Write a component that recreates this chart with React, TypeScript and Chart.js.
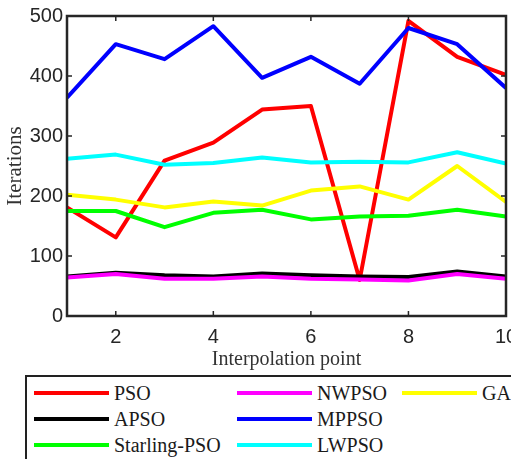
import React, { useEffect, useRef } from "react";
import { Chart, registerables } from "chart.js";

Chart.register(...registerables);

const interpolationPoints = [1, 2, 3, 4, 5, 6, 7, 8, 9, 10];
const xTickValues = [2, 4, 6, 8, 10];
const yTickValues = [0, 100, 200, 300, 400, 500];

const seriesNames = ["PSO", "APSO", "Starling-PSO", "NWPSO", "MPPSO", "LWPSO", "GA"];
const seriesColors = ["#ff0000", "#000000", "#00ff00", "#ff00ff", "#0000ff", "#00ffff", "#ffff00"];

const psoValues = [181, 131, 259, 289, 344, 350, 60, 492, 432, 402];
const apsoValues = [66, 72, 68, 66, 71, 68, 66, 65, 74, 66];
const starlingValues = [175, 175, 148, 172, 177, 161, 166, 167, 177, 166];
const nwpsoValues = [64, 70, 62, 62, 66, 62, 61, 59, 70, 62];
const mppsoValues = [364, 453, 428, 483, 397, 432, 387, 480, 453, 380];
const lwpsoValues = [262, 269, 252, 255, 264, 256, 257, 256, 273, 254];
const gaValues = [202, 194, 181, 191, 184, 209, 216, 194, 250, 190];

const seriesValues = [psoValues, apsoValues, starlingValues, nwpsoValues, mppsoValues, lwpsoValues, gaValues];

// legend layout: column-major like the reference
const legendColumns = [
  [0, 1, 2],
  [3, 4, 5],
  [6],
];

const AXIS_COLOR = "#262626";

const framePlugin = {
  id: "matlabFrame",
  afterDatasetsDraw(chart: any) {
    const { ctx, chartArea, scales } = chart;
    const { left, right, top, bottom } = chartArea;
    ctx.save();
    ctx.strokeStyle = AXIS_COLOR;
    ctx.lineWidth = 1.5;
    const tl = 5;
    ctx.beginPath();
    for (const v of xTickValues) {
      const px = scales.x.getPixelForValue(v);
      if (px <= left + 1 || px >= right - 1) continue;
      ctx.moveTo(px, bottom);
      ctx.lineTo(px, bottom - tl);
      ctx.moveTo(px, top);
      ctx.lineTo(px, top + tl);
    }
    for (const v of yTickValues) {
      const py = scales.y.getPixelForValue(v);
      if (py <= top + 1 || py >= bottom - 1) continue;
      ctx.moveTo(left, py);
      ctx.lineTo(left + tl, py);
      ctx.moveTo(right, py);
      ctx.lineTo(right - tl, py);
    }
    ctx.stroke();
    ctx.lineWidth = 2.5;
    ctx.strokeRect(left, top, right - left, bottom - top);
    ctx.restore();
  },
};

function LegendBox() {
  const colX = [34, 237, 402];
  const rowY = [393, 419, 445];
  const items: React.ReactNode[] = [];
  legendColumns.forEach((col, ci) => {
    col.forEach((si, ri) => {
      items.push(
        <div key={`l${si}`} style={{ position: "absolute", left: colX[ci], top: rowY[ri] - 2, width: 75, height: 4, background: seriesColors[si] }} />
      );
      items.push(
        <div
          key={`t${si}`}
          style={{
            position: "absolute",
            left: colX[ci] + 80,
            top: rowY[ri] - 13,
            height: 26,
            lineHeight: "26px",
            fontFamily: '"Liberation Serif", "Times New Roman", serif',
            fontSize: 20,
            color: "#1a1a1a",
            whiteSpace: "nowrap",
          }}
        >
          {seriesNames[si]}
        </div>
      );
    });
  });
  return (
    <>
      <div style={{ position: "absolute", left: 25, top: 375, width: 600, height: 200, border: "2px solid #222", boxSizing: "border-box", background: "#fff" }} />
      {items}
    </>
  );
}

export default function App() {
  const canvasRef = useRef<HTMLCanvasElement | null>(null);

  useEffect(() => {
    const canvas = canvasRef.current;
    if (!canvas) return;
    const datasets = seriesNames.map((name, i) => ({
      label: name,
      data: interpolationPoints.map((x, k) => ({ x, y: seriesValues[i][k] })),
      borderColor: seriesColors[i],
      backgroundColor: seriesColors[i],
      borderWidth: 4,
      borderJoinStyle: "round",
      borderCapStyle: "butt",
      pointRadius: 0,
      tension: 0,
      fill: false,
      order: seriesNames.length - i,
    }));
    const chart = new Chart(canvas, {
      type: "line",
      data: { datasets },
      plugins: [framePlugin],
      options: {
        animation: false,
        responsive: false,
        devicePixelRatio: 1,
        layout: { padding: { left: 0, top: 15, right: 34, bottom: 83 } },
        plugins: { legend: { display: false }, tooltip: { enabled: false } },
        scales: {
          x: {
            type: "linear",
            min: 1,
            max: 10,
            grid: { display: false, drawTicks: false },
            border: { display: false },
            afterBuildTicks: (scale: any) => {
              scale.ticks = xTickValues.map((v) => ({ value: v }));
            },
            afterFit: (scale: any) => {
              scale.height = 60;
            },
            ticks: {
              padding: 9,
              color: AXIS_COLOR,
              maxRotation: 0,
              autoSkip: false,
              font: { family: '"Liberation Sans", Arial, sans-serif', size: 20 },
            },
            title: {
              display: true,
              text: "Interpolation point",
              color: "#333",
              padding: { top: 0, bottom: 4 },
              font: { family: '"Liberation Serif", "Times New Roman", serif', size: 20 },
            },
          },
          y: {
            type: "linear",
            min: 0,
            max: 500,
            grid: { display: false, drawTicks: false },
            border: { display: false },
            afterBuildTicks: (scale: any) => {
              scale.ticks = yTickValues.map((v) => ({ value: v }));
            },
            afterFit: (scale: any) => {
              scale.width = 67;
            },
            ticks: {
              padding: 4,
              color: AXIS_COLOR,
              font: { family: '"Liberation Sans", Arial, sans-serif', size: 20 },
            },
            title: {
              display: true,
              text: "Iterations",
              color: "#333",
              padding: { top: 3, bottom: 0 },
              font: { family: '"Liberation Serif", "Times New Roman", serif', size: 21 },
            },
          },
        },
      },
    } as any);
    return () => chart.destroy();
  }, []);

  return (
    <div style={{ position: "fixed", left: 0, top: 0, width: 511, height: 459, overflow: "hidden", background: "#fff" }}>
      <canvas ref={canvasRef} width={540} height={459} style={{ position: "absolute", left: 0, top: 0, width: 540, height: 459 }} />
      <LegendBox />
    </div>
  );
}
